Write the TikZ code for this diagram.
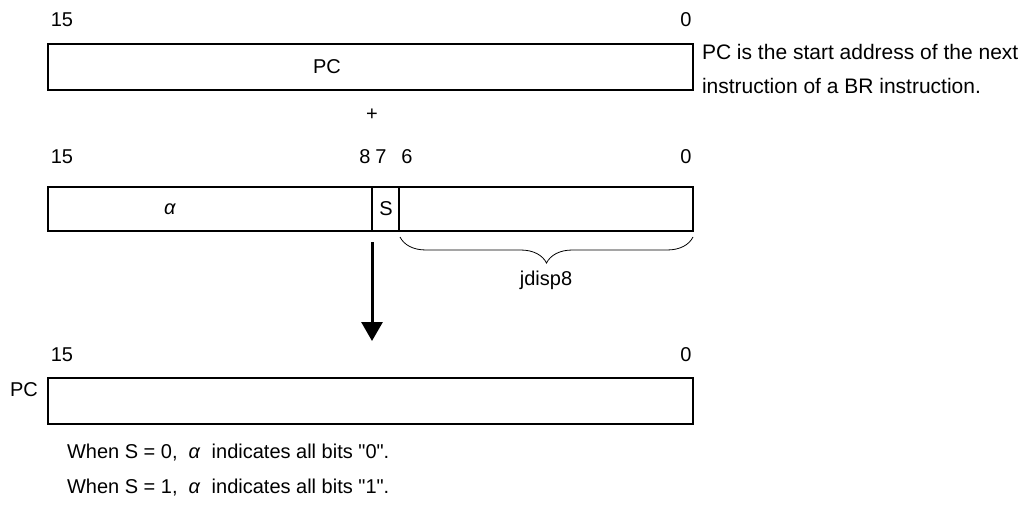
\documentclass[tikz,border=0pt]{standalone}
\usepackage{fontspec}
\setmainfont{Liberation Sans}[Ligatures=TeXOff]
\usetikzlibrary{decorations.pathreplacing,arrows.meta}
\begin{document}
\begin{tikzpicture}[x=1pt,y=-1pt,
  every node/.style={inner sep=0pt, outer sep=0pt},
  txt/.style={font=\fontsize{20}{24}\selectfont},
  bigtxt/.style={font=\fontsize{21}{25}\selectfont},
  regbox/.style={draw, line width=2.6pt, anchor=north west, minimum width=645pt, minimum height=46pt},
  divider/.style={line width=2pt},
  bigarrow/.style={line width=3pt, -{Triangle[length=19pt,width=21pt]}},
  bracestyle/.style={line width=0.8pt, decorate, decoration={brace, mirror, amplitude=26pt}}]
\useasboundingbox (0,0) rectangle (1027,505);
% row 1
\node[txt] (t15a) at (62,20) {15};
\node[txt] (t0a) at (686,20) {0};
\node[regbox] (r1) at (48,44) {};
\node[txt] (pc1) at (327,67) {PC};
\node[bigtxt, anchor=west] (note1) at (702,52) {PC is the start address of the next};
\node[bigtxt, anchor=west] (note2) at (702,86) {instruction of a BR instruction.};
\node[txt] (plus) at (372,115) {+};
% row 2
\node[txt] (t15b) at (62,157) {15};
\node[txt] (t8) at (365,157) {8};
\node[txt] (t7) at (381,157) {7};
\node[txt] (t6) at (407,157) {6};
\node[txt] (t0b) at (686,157) {0};
\node[regbox, minimum height=44pt] (r2) at (48,187) {};
\coordinate (d1t) at (372,187);
\coordinate (d1b) at (372,231);
\coordinate (d2t) at (399,187);
\coordinate (d2b) at (399,231);
\draw[divider] (d1t) -- (d1b);
\draw[divider] (d2t) -- (d2b);
\node[txt] (alpha) at (170,209) {\textit{α}};
\node[txt] (s) at (386,209) {S};
\coordinate (bl) at (400,237);
\coordinate (br) at (693,237);
\draw[bracestyle] (bl) -- (br);
\node[txt] (jd) at (546,280) {jdisp8};
% arrow
\coordinate (as) at (372,242);
\coordinate (ae) at (372,341);
\draw[bigarrow] (as) -- (ae);
% row 3
\node[txt] (t15c) at (62,355) {15};
\node[txt] (t0c) at (686,355) {0};
\node[regbox, minimum height=46pt] (r3) at (48,378) {};
\node[txt] (pc3) at (24,390) {PC};
\node[txt, anchor=west] (w1) at (67,453) {When S = 0,\ \ \textit{α}\ \ indicates all bits "0".};
\node[txt, anchor=west] (w2) at (67,488) {When S = 1,\ \ \textit{α}\ \ indicates all bits "1".};
\end{tikzpicture}
\end{document}
